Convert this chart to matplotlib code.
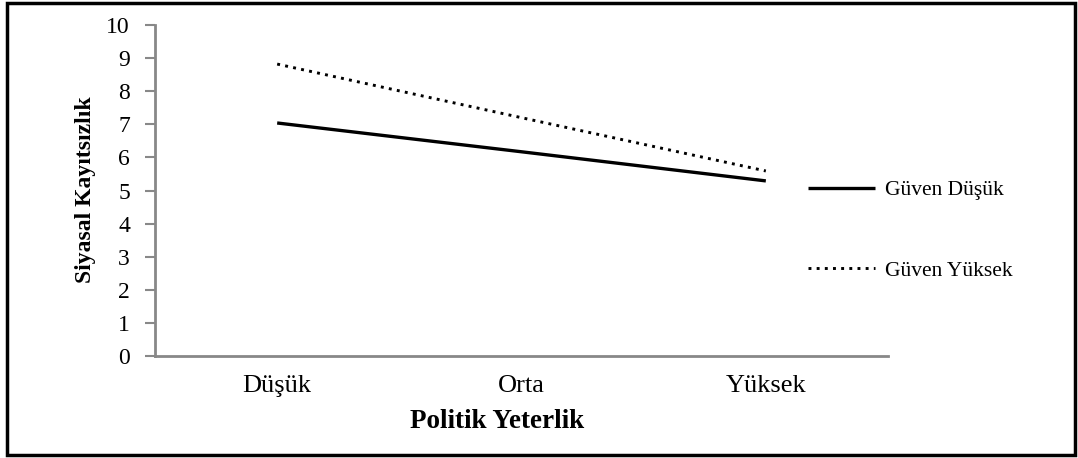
import matplotlib.pyplot as plt
from matplotlib.patches import Rectangle
from matplotlib.lines import Line2D

categories = ['Düşük', 'Orta', 'Yüksek']
guven_dusuk = [7.04, 6.17, 5.29]
guven_yuksek = [8.82, 7.2, 5.59]
series_names = ['Güven Düşük', 'Güven Yüksek']
yticks = list(range(0, 11))

plt.rcParams['font.family'] = ['Liberation Serif', 'DejaVu Serif']

W, H = 1078, 458
fig = plt.figure(figsize=(W / 100, H / 100), dpi=100)
ax = fig.add_axes([155 / W, 1 - 356 / H, (888 - 155) / W, (356 - 25) / H])

solid = dict(color='black', lw=2.4, solid_capstyle='butt')
dotted = dict(color='black', lw=2.1, linestyle=(0, (1, 1.8)))

x = range(len(categories))
ax.plot(x, guven_dusuk, **solid)
ax.plot(x, guven_yuksek, **dotted)

ax.set_xlim(-0.5, 2.5)
ax.set_ylim(0, 10)
ax.set_yticks(yticks)
ax.set_xticks(list(x))
ax.set_xticklabels(categories, fontsize=19)
ax.tick_params(axis='y', labelsize=17, length=7, color='#888888', width=1.5, pad=11)
ax.tick_params(axis='x', length=0, pad=14)
for s in ['top', 'right']:
    ax.spines[s].set_visible(False)
for s in ['left', 'bottom']:
    ax.spines[s].set_color('#888888')
    ax.spines[s].set_linewidth(2)

fig.text(86 / W, 1 - 190 / H, 'Siyasal Kayıtsızlık', rotation=90, ha='center', va='center',
         fontsize=17, fontweight='bold')
fig.text(497 / W, 1 - 422 / H, 'Politik Yeterlik', ha='center', va='center',
         fontsize=19.5, fontweight='bold')

# legend, placed by hand at the right of the plot
for i, (name, style) in enumerate(zip(series_names, [solid, dotted])):
    yy = 1 - (188 + 80 * i) / H
    fig.add_artist(Line2D([808 / W, 875 / W], [yy, yy], transform=fig.transFigure, **style))
    fig.text(885 / W, yy - 3 / H, name, ha='left', va='center', fontsize=15.5)

fig.patches.append(Rectangle((7 / W, 3 / H), (1075 - 7) / W, (455 - 3) / H,
                             transform=fig.transFigure, fill=False, edgecolor='black', lw=2.5))

fig.savefig('out.png', dpi=100)
